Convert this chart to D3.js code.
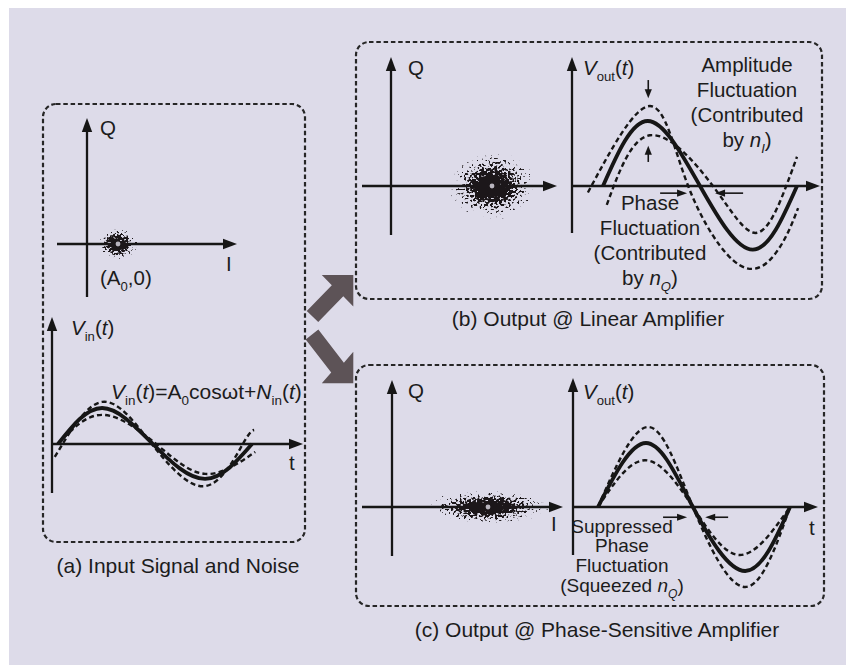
<!DOCTYPE html>
<html><head><meta charset="utf-8">
<script src="https://cdn.jsdelivr.net/npm/d3@7"></script>
<style>
html,body{margin:0;padding:0;background:#fff;}
svg{display:block;}
text{font-family:"Liberation Sans",Arial,Helvetica,sans-serif;fill:#1c1c1c;}
</style></head><body>
<svg id="chart" width="846" height="665"></svg>
<script>
// ================= DATA =================
const captions = ["(a) Input Signal and Noise", "(b) Output @ Linear Amplifier", "(c) Output @ Phase-Sensitive Amplifier"];

// I/Q constellation noise clouds (axis units): centre and visible half-spread
const cloudI = [3.1, 10.1, 9.6];
const cloudQ = [0, 0, 0];
const cloudSpreadI = [2.2, 4.6, 6.4];
const cloudSpreadQ = [1.8, 3.6, 1.8];

// waveform knots: phase (deg, ideal carrier 0..360) and value (relative to A0)
// order in each panel: [signal, upper/outer dashed, lower/inner dashed]
const wavePhaseA = [[0, 82, 176, 273, 360], [-6, 82, 174, 273, 343, 364], [0, 82, 182, 273, 366]];
const waveValueA = [[0, 1, 0, -0.97, 0], [-0.36, 1.17, 0, -1.17, 0, 0.39], [0, 0.81, 0, -0.83, -0.22]];
const wavePhaseB = [[0, 83, 180, 278, 360], [-28, 87, 158, 254, 325, 362], [7, 87, 204, 286, 340, 360]];
const waveValueB = [[0, 1, 0, -0.98, 0], [-0.1, 1.23, 0, -1.22, -0.98, -0.34], [-0.29, 0.78, 0, -0.72, 0, 0.45]];
const wavePhaseC = [[0, 90, 178, 276, 360], [0, 94, 178, 276, 360], [0, 88, 178, 266, 360]];
const waveValueC = [[0, 1, 0, -1, 0], [0, 1.25, 0, -1.25, 0], [0, 0.73, 0, -0.75, 0]];
const waveKind = ["solid", "dashed", "dashed"];

// annotation arrows on output waveforms (phase deg / value)
const ampArrowPhaseB = 84;
const ampArrowFromB = [1.63, 0.37];
const ampArrowToB = [1.35, 0.62];
const phaseArrowFromB = [106, 260];
const phaseArrowToB = [156, 208];
const phaseArrowLevelB = -0.11;
const phaseArrowFromC = [122, 244];
const phaseArrowToC = [167, 201];
const phaseArrowLevelC = -0.16;

// ================= LAYOUT =================
const layout = {
  boxes: [
    {x0: 43, y0: 104, x1: 305, y1: 542},
    {x0: 356, y0: 42, x1: 822, y1: 299},
    {x0: 356, y0: 365, x1: 824, y1: 606}
  ],
  captionPos: [[178, 573], [588, 326], [597, 637]],
  iq: [
    {ox: 87, oy: 244, iMin: -3, iMax: 15, qMin: -5.3, qMax: 12.6},
    {ox: 391, oy: 186, iMin: -2.9, iMax: 16.6, qMin: -4.9, qMax: 12.9},
    {ox: 392, oy: 507, iMin: -3, iMax: 17.1, qMin: -4.9, qMax: 12.7}
  ],
  pxPerIQ: 10,
  wave: [
    {ax: 52, ay: 444, top: 317, bottom: 493, right: 303, x0: 58, x1: 252, amp: 36},
    {ax: 572, ay: 186, top: 57, bottom: 233, right: 820, x0: 603, x1: 797, amp: 65},
    {ax: 573, ay: 507, top: 378, bottom: 555, right: 818, x0: 598, x1: 790, amp: 64}
  ]
};

const ink = "#161616";
const svg = d3.select("#chart");
const defs = svg.append("defs");

// background (scanned page tint)
svg.append("rect").attr("x", 9).attr("y", 8).attr("width", 846 - 9).attr("height", 665 - 8).attr("fill", "#dddbe9");

// speckle filter for noise clouds
const grad = defs.append("radialGradient").attr("id", "cloudGrad");
[[0, 1], [0.3, 0.82], [0.6, 0.55], [0.85, 0.4], [1, 0.28]].forEach(s =>
  grad.append("stop").attr("offset", s[0]).attr("stop-color", "#000").attr("stop-opacity", s[1]));
const f = defs.append("filter").attr("id", "speckle").attr("x", 0).attr("y", 0).attr("width", 1).attr("height", 1)
  .attr("color-interpolation-filters", "sRGB");
f.append("feTurbulence").attr("type", "fractalNoise").attr("baseFrequency", 0.45).attr("numOctaves", 1).attr("seed", 11).attr("result", "n");
f.append("feColorMatrix").attr("in", "n").attr("type", "matrix")
  .attr("values", "0 0 0 0 0  0 0 0 0 0  0 0 0 0 0  1 0 0 0 0").attr("result", "na");
f.append("feComposite").attr("in", "na").attr("in2", "SourceAlpha").attr("operator", "arithmetic")
  .attr("k1", 0).attr("k2", 1).attr("k3", 1).attr("k4", -1.08).attr("result", "c");
f.append("feColorMatrix").attr("in", "c").attr("type", "matrix")
  .attr("values", "0 0 0 0 0.11  0 0 0 0 0.09  0 0 0 0 0.1  0 0 0 14 0");

// ---------- helpers ----------
function roundedDashedBox(b) {
  svg.append("rect").attr("x", b.x0).attr("y", b.y0).attr("width", b.x1 - b.x0).attr("height", b.y1 - b.y0)
    .attr("rx", 13).attr("ry", 13).attr("fill", "none").attr("stroke", "#262626")
    .attr("stroke-width", 2.2).attr("stroke-dasharray", "4.5 2.8");
}
function arrowLine(x1, y1, x2, y2, w, headL, headW) {
  const dx = x2 - x1, dy = y2 - y1, len = Math.hypot(dx, dy), ux = dx / len, uy = dy / len;
  const bx = x2 - ux * headL, by = y2 - uy * headL;
  svg.append("line").attr("x1", x1).attr("y1", y1).attr("x2", bx + ux).attr("y2", by + uy)
    .attr("stroke", ink).attr("stroke-width", w);
  svg.append("path").attr("d", `M${x2},${y2}L${bx - uy * headW},${by + ux * headW}L${bx + uy * headW},${by - ux * headW}Z`)
    .attr("fill", ink);
}
function rich(x, y, parts, size, anchor) {
  const t = svg.append("text").attr("x", x).attr("y", y).attr("font-size", size).attr("text-anchor", anchor || "start");
  let shift = 0;
  parts.forEach(p => {
    const ts = t.append("tspan").text(p.t);
    const target = p.sub ? size * 0.3 : 0;
    if (target !== shift) { ts.attr("dy", target - shift); shift = target; }
    if (p.sub) ts.attr("font-size", size * 0.64);
    if (p.i) ts.attr("font-style", "italic");
  });
  return t;
}
function bigArrow(C, T, L, w, color) {
  const ux0 = T[0] - C[0], uy0 = T[1] - C[1];
  const sx = Math.sign(ux0), sy = Math.sign(uy0);
  const P1 = [T[0] - L * sx, T[1]], P2 = [T[0], T[1] - L * sy];
  const M = [(P1[0] + P2[0]) / 2, (P1[1] + P2[1]) / 2];
  const dx = M[0] - C[0], dy = M[1] - C[1], dl = Math.hypot(dx, dy);
  const nx = -dy / dl, ny = dx / dl;
  const side = (P) => (P[0] - M[0]) * nx + (P[1] - M[1]) * ny;
  const Pp = side(P1) > 0 ? P1 : P2, Pm = side(P1) > 0 ? P2 : P1;
  const pts = [[C[0] + w * nx, C[1] + w * ny], [M[0] + w * nx, M[1] + w * ny], Pp, T, Pm, [M[0] - w * nx, M[1] - w * ny], [C[0] - w * nx, C[1] - w * ny]];
  svg.append("path").attr("d", "M" + pts.map(p => p.join(",")).join("L") + "Z").attr("fill", color);
}

// ---------- boxes & captions ----------
layout.boxes.forEach(roundedDashedBox);
captions.forEach((c, i) => {
  svg.append("text").attr("x", layout.captionPos[i][0]).attr("y", layout.captionPos[i][1])
    .attr("text-anchor", "middle").attr("font-size", 21).text(c);
});

// ---------- I/Q constellations ----------
layout.iq.forEach((p, i) => {
  const xI = d3.scaleLinear().domain([0, 1]).range([p.ox, p.ox + layout.pxPerIQ]);
  const yQ = d3.scaleLinear().domain([0, 1]).range([p.oy, p.oy - layout.pxPerIQ]);
  arrowLine(xI(p.iMin), yQ(0), xI(p.iMax), yQ(0), 2.3, 14, 5.2);
  arrowLine(xI(0), yQ(p.qMin), xI(0), yQ(p.qMax), 2.3, 14, 5.2);
  const cx = xI(cloudI[i]), cy = yQ(cloudQ[i]);
  svg.append("ellipse").attr("cx", cx).attr("cy", cy)
    .attr("rx", xI(cloudI[i] + cloudSpreadI[i]) - cx).attr("ry", cy - yQ(cloudQ[i] + cloudSpreadQ[i]))
    .attr("fill", "url(#cloudGrad)").attr("filter", "url(#speckle)");
  svg.append("circle").attr("cx", cx).attr("cy", cy).attr("r", 2.4).attr("fill", "#b9b5bf");
});
rich(100, 135, [{t: "Q"}], 20.5);
rich(226, 271, [{t: "I"}], 20.5);
rich(100, 285, [{t: "(A"}, {t: "0", sub: 1}, {t: ",0)"}], 20.5);
rich(408, 75, [{t: "Q"}], 20.5);
rich(408, 398, [{t: "Q"}], 20.5);
rich(551, 531, [{t: "I"}], 20.5);

// ---------- waveforms ----------
const phases = [wavePhaseA, wavePhaseB, wavePhaseC];
const values = [waveValueA, waveValueB, waveValueC];
const waveScales = layout.wave.map((w, i) => {
  const x = d3.scaleLinear().domain([0, 360]).range([w.x0, w.x1]);
  const y = d3.scaleLinear().domain([-1, 1]).range([w.ay + w.amp, w.ay - w.amp]);
  arrowLine(w.ax, w.ay, w.right, w.ay, 2.3, 14, 5.2);
  arrowLine(w.ax, w.bottom, w.ax, w.top, 2.3, 14, 5.2);
  const line = d3.line().x(d => x(d[0])).y(d => y(d[1])).curve(d3.curveNatural);
  phases[i].forEach((ph, k) => {
    const pts = ph.map((p, j) => [p, values[i][k][j]]);
    const path = svg.append("path").attr("d", line(pts)).attr("fill", "none").attr("stroke", ink);
    if (waveKind[k] === "solid") path.attr("stroke-width", 3.8);
    else path.attr("stroke-width", 2.4).attr("stroke-dasharray", "5 3.2");
  });
  return {x, y};
});

rich(71, 335, [{t: "V", i: 1}, {t: "in", sub: 1}, {t: "("}, {t: "t", i: 1}, {t: ")"}], 20.5);
rich(111, 399, [{t: "V", i: 1}, {t: "in", sub: 1}, {t: "("}, {t: "t", i: 1}, {t: ")=A"}, {t: "0", sub: 1},
  {t: "cosωt+"}, {t: "N", i: 1}, {t: "in", sub: 1}, {t: "("}, {t: "t", i: 1}, {t: ")"}], 21);
rich(289, 470, [{t: "t"}], 20.5);
rich(583, 75, [{t: "V", i: 1}, {t: "out", sub: 1}, {t: "("}, {t: "t", i: 1}, {t: ")"}], 20.5);
rich(583, 399, [{t: "V", i: 1}, {t: "out", sub: 1}, {t: "("}, {t: "t", i: 1}, {t: ")"}], 20.5);
rich(809, 535, [{t: "t"}], 20.5);

const sb = waveScales[1], sc = waveScales[2];
ampArrowFromB.forEach((v, k) => arrowLine(sb.x(ampArrowPhaseB), sb.y(v), sb.x(ampArrowPhaseB), sb.y(ampArrowToB[k]), 1.6, 9, 3.6));
phaseArrowFromB.forEach((p, k) => arrowLine(sb.x(p), sb.y(phaseArrowLevelB), sb.x(phaseArrowToB[k]), sb.y(phaseArrowLevelB), 1.6, 10, 3.6));
phaseArrowFromC.forEach((p, k) => arrowLine(sc.x(p), sc.y(phaseArrowLevelC), sc.x(phaseArrowToC[k]), sc.y(phaseArrowLevelC), 1.6, 10, 3.6));

[["Amplitude", 72], ["Fluctuation", 97], ["(Contributed", 122]].forEach(d => rich(747, d[1], [{t: d[0]}], 20.5, "middle"));
rich(747, 147, [{t: "by "}, {t: "n", i: 1}, {t: "I", sub: 1, i: 1}, {t: ")"}], 20.5, "middle");
[["Phase", 210], ["Fluctuation", 235], ["(Contributed", 260]].forEach(d => rich(650, d[1], [{t: d[0]}], 20.5, "middle"));
rich(650, 285, [{t: "by "}, {t: "n", i: 1}, {t: "Q", sub: 1, i: 1}, {t: ")"}], 20.5, "middle");
[["Suppressed", 533], ["Phase", 552], ["Fluctuation", 572]].forEach(d => rich(622, d[1], [{t: d[0]}], 19, "middle"));
rich(622, 592, [{t: "(Squeezed "}, {t: "n", i: 1}, {t: "Q", sub: 1, i: 1}, {t: ")"}], 19, "middle");

bigArrow([312.5, 316.5], [353.3, 275], 31.5, 8, "#5d5357");
bigArrow([312, 334.5], [353.3, 383.3], 31.5, 8, "#5d5357");
</script>
</body></html>
